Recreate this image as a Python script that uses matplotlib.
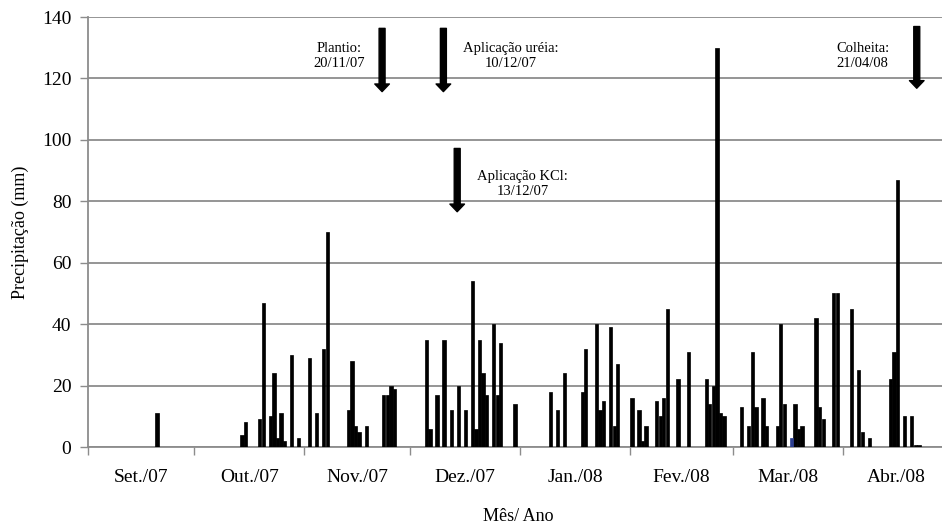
import numpy as np
import pandas as pd
import matplotlib
matplotlib.use('Agg')
import matplotlib.pyplot as plt

# Precipitação diária (mm), set/2007 a abr/2008
datas = ['2007-09-20',
         '2007-10-14', '2007-10-15', '2007-10-19', '2007-10-20', '2007-10-22', '2007-10-23',
         '2007-10-24', '2007-10-25', '2007-10-26', '2007-10-28', '2007-10-30',
         '2007-11-02', '2007-11-04', '2007-11-06', '2007-11-07', '2007-11-13', '2007-11-14',
         '2007-11-15', '2007-11-16', '2007-11-18', '2007-11-23', '2007-11-24', '2007-11-25',
         '2007-11-26',
         '2007-12-05', '2007-12-06', '2007-12-08', '2007-12-10', '2007-12-12', '2007-12-14',
         '2007-12-16', '2007-12-18', '2007-12-19', '2007-12-20', '2007-12-21', '2007-12-22',
         '2007-12-24', '2007-12-25', '2007-12-26', '2007-12-30',
         '2008-01-09', '2008-01-11', '2008-01-13', '2008-01-18', '2008-01-19', '2008-01-22',
         '2008-01-23', '2008-01-24', '2008-01-26', '2008-01-27', '2008-01-28',
         '2008-02-01', '2008-02-03', '2008-02-04', '2008-02-05', '2008-02-08', '2008-02-09',
         '2008-02-10', '2008-02-11', '2008-02-14', '2008-02-17', '2008-02-22', '2008-02-23',
         '2008-02-24', '2008-02-25', '2008-02-26', '2008-02-27',
         '2008-03-03', '2008-03-05', '2008-03-06', '2008-03-07', '2008-03-09', '2008-03-10',
         '2008-03-13', '2008-03-14', '2008-03-15', '2008-03-18', '2008-03-19', '2008-03-20',
         '2008-03-24', '2008-03-25', '2008-03-26', '2008-03-29', '2008-03-30',
         '2008-04-03', '2008-04-05', '2008-04-06', '2008-04-08', '2008-04-14', '2008-04-15',
         '2008-04-16', '2008-04-18', '2008-04-20', '2008-04-21', '2008-04-22']
precip = [11,
          4, 8, 9, 47, 10, 24, 3, 11, 2, 30, 3,
          29, 11, 32, 70, 12, 28, 7, 5, 7, 17, 17, 20, 19,
          35, 6, 17, 35, 12, 20, 12, 54, 6, 35, 24, 17, 40, 17, 34, 14,
          18, 12, 24, 18, 32, 40, 12, 15, 39, 7, 27,
          16, 12, 2, 7, 15, 10, 16, 45, 22, 31, 22, 14, 20, 130, 11, 10,
          13, 7, 31, 13, 16, 7, 7, 40, 14, 14, 6, 7, 42, 13, 9, 50, 50,
          45, 25, 5, 3, 22, 31, 87, 10, 10, 0.5, 0.5]

# barra em azul (outra série)
datas_azul = ['2008-03-17']
precip_azul = [3]

meses = ['Set./07', 'Out./07', 'Nov./07', 'Dez./07', 'Jan./08', 'Fev./08', 'Mar./08', 'Abr./08']

# Eventos do manejo
eventos = ['Plantio:\n20/11/07', 'Aplicação uréia:\n10/12/07',
           'Aplicação KCl:\n13/12/07', 'Colheita:\n21/04/08']

inicio = pd.Timestamp('2007-09-01')
x = (pd.to_datetime(datas) - inicio).days.values + 0.5
x_azul = (pd.to_datetime(datas_azul) - inicio).days.values + 0.5
inicio_mes = (pd.date_range('2007-09-01', '2008-05-01', freq='MS') - inicio).days.values

plt.rcParams['font.family'] = 'Liberation Serif'

fig = plt.figure(figsize=(9.42, 5.24), dpi=100)
ax = fig.add_axes([88 / 942, 77 / 524, 861 / 942, 430 / 524])

ax.bar(x, precip, width=0.92, color='black', edgecolor='black', linewidth=0.5, zorder=3)
ax.bar(x_azul, precip_azul, width=0.92, color='#2b3d8f', edgecolor='#2b3d8f',
       linewidth=0.5, zorder=3)

ax.set_xlim(0, inicio_mes[-1])
ax.set_ylim(0, 140)
ax.set_yticks(np.arange(0, 141, 20))
ax.yaxis.grid(True, color='#8c8c8c', linewidth=1.3, zorder=0)

ax.set_xticks(inicio_mes[:-1])
ax.set_xticklabels([])
meio = (inicio_mes[:-1] + inicio_mes[1:]) / 2
ax.set_xticks(meio, minor=True)
ax.set_xticklabels(meses, minor=True)
ax.tick_params(axis='x', which='minor', length=0, pad=16, labelsize=14)
ax.tick_params(axis='x', which='major', length=6, color='#8c8c8c', width=1)
ax.tick_params(axis='y', length=6, color='#8c8c8c', width=1, labelsize=14, pad=6)

for lado in ['top', 'right']:
    ax.spines[lado].set_visible(False)
for lado in ['left', 'bottom']:
    ax.spines[lado].set_color('#8c8c8c')
    ax.spines[lado].set_linewidth(1.3)

ax.set_ylabel('Precipitação (mm)', fontsize=13, labelpad=9)
ax.set_xlabel('Mês/ Ano', fontsize=13, labelpad=16)

# Setas e textos
seta_x = [83, 100.3, 104.2, 233.9]
seta_topo = [136.3, 136.3, 97.2, 136.9]
seta_ponta = [115.7, 115.7, 76.6, 116.8]
texto_x = [70.8, 119.4, 122.6, 218.6]
texto_y = [127.4, 127.4, 85.5, 127.2]

for i in range(len(eventos)):
    ax.annotate('', xy=(seta_x[i], seta_ponta[i]), xytext=(seta_x[i], seta_topo[i]),
                arrowprops=dict(facecolor='black', edgecolor='black', width=4.3,
                                headwidth=10.5, headlength=5.5, shrink=0),
                zorder=5)
    ax.text(texto_x[i], texto_y[i], eventos[i], ha='center', va='center',
            fontsize=10.5, linespacing=1.2, zorder=5)

plt.savefig('out.png', dpi=100)
